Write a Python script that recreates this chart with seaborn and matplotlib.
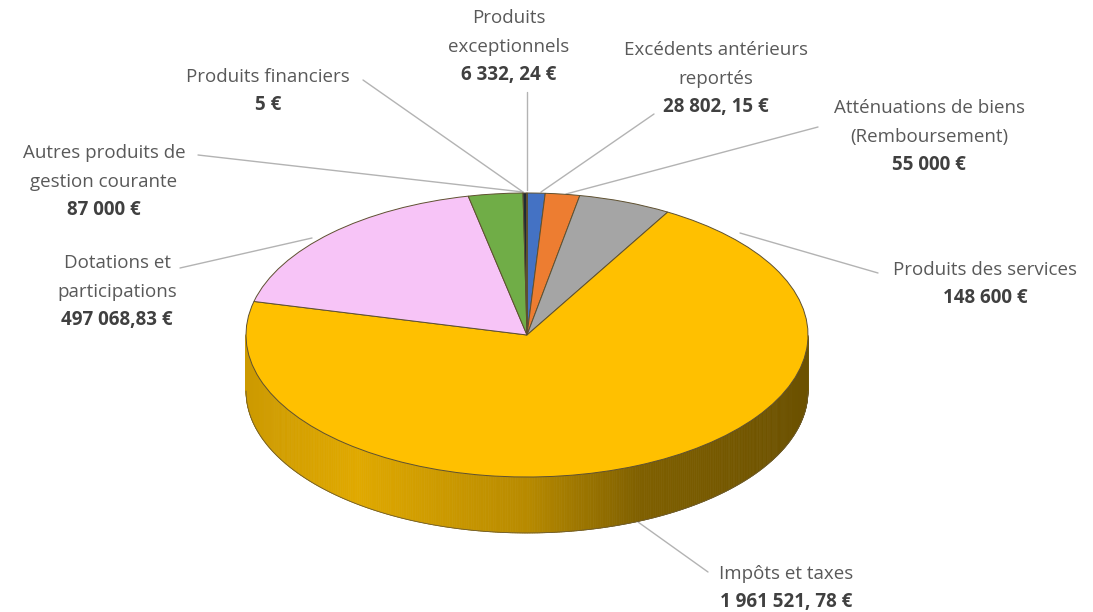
import numpy as np
import matplotlib
matplotlib.use("Agg")
import matplotlib.pyplot as plt
from matplotlib.collections import PolyCollection
from matplotlib.colors import to_rgb
import seaborn as sns

# slices, clockwise from 12 o'clock (same order as the original sheet)
categories = ["Excédents antérieurs\nreportés", "Atténuations de biens\n(Remboursement)",
              "Produits des services", "Impôts et taxes", "Dotations et\nparticipations",
              "Autres produits de\ngestion courante", "Produits\nexceptionnels",
              "Produits financiers"]
values = [28802.15, 55000, 148600, 1961521.78, 497068.83, 87000, 6332.24, 5]
value_labels = ["28 802, 15 €", "55 000 €", "148 600 €", "1 961 521, 78 €",
                "497 068,83 €", "87 000 €", "6 332, 24 €", "5 €"]
colors = ["#4472C4", "#ED7D31", "#A5A5A5", "#FFC000", "#F7C4F7", "#70AD47",
          "#1F2A36", "#5B9BD5"]

# layout (pixels, y from top)
CX, CY, RX, RY, DEPTH = 527, 335, 281, 142, 56
W, H = 1093, 612
label_xy = [(716, 50), (929, 108), (985, 270), (786, 574), (117, 263),
            (104, 153), (509, 18), (268, 77)]
leaders = [((654, 114), (541, 192)), ((818, 127), (566, 194)),
           ((878, 273), (740, 233)), ((708, 572), (638, 522)),
           ((180, 268), (312, 238)), ((198, 155), (523, 192)),
           ((527, 92), (527, 190)), ((363, 80), (523, 192))]
LINE_STEP = 29


def px(x, y):
    return (x - CX) / RX, (CY - y) / RY


sns.set_theme(style="white")
plt.rcParams["font.family"] = ["Open Sans", "DejaVu Sans"]

fig = plt.figure(figsize=(W / 100, H / 100), dpi=100)
ax = fig.add_axes([0, 0, 1, 1])

wedges, _ = ax.pie(values, colors=colors, startangle=90, counterclock=False,
                   radius=1, wedgeprops=dict(edgecolor="#5e5030", linewidth=0.7,
                                             zorder=3))

# side wall of the 3D pie (front half only)
depth = DEPTH / RY
polys, fcs = [], []
for w, c in zip(wedges, colors):
    t1, t2 = sorted([w.theta1, w.theta2])
    ts = np.linspace(t1, t2, max(int((t2 - t1) * 2), 2))
    base = np.array(to_rgb(c))
    for a, b in zip(ts[:-1], ts[1:]):
        m = ((a + b) / 2) % 360
        if not 180 <= m <= 360:
            continue
        ra, rb = np.radians(a), np.radians(b)
        polys.append([(np.cos(ra), np.sin(ra)), (np.cos(rb), np.sin(rb)),
                      (np.cos(rb), np.sin(rb) - depth), (np.cos(ra), np.sin(ra) - depth)])
        ux = np.cos(np.radians(m))
        f = np.interp(ux, [-1, -0.6, 0, 0.4, 1], [0.8, 0.88, 0.72, 0.5, 0.42])
        fcs.append(np.clip(base * f, 0, 1))
ax.add_collection(PolyCollection(polys, facecolors=fcs, edgecolors=fcs,
                                 linewidths=0.5, zorder=2))
tt = np.radians(np.linspace(180, 360, 200))
ax.plot(np.cos(tt), np.sin(tt) - depth, color="#6b5a30", lw=0.6, zorder=2.5)

# labels and leader lines
for name, val, (lx, ly), (p0, p1) in zip(categories, value_labels, label_xy, leaders):
    rows = name.split("\n")
    for i, r in enumerate(rows):
        ax.text(*px(lx, ly + i * LINE_STEP), r, ha="center", va="center",
                fontsize=13.5, color="#595959", zorder=5)
    ax.text(*px(lx, ly + len(rows) * LINE_STEP - 1), val, ha="center", va="center",
            fontsize=13.5, color="#404040", fontweight="bold", zorder=5)
    (x0, y0), (x1, y1) = px(*p0), px(*p1)
    ax.plot([x0, x1], [y0, y1], color="#b3b3b3", lw=1, zorder=1)

ax.set_aspect("auto")
ax.set_xlim(px(0, 0)[0], px(W, 0)[0])
ax.set_ylim(px(0, H)[1], px(0, 0)[1])
ax.axis("off")

fig.savefig("out.png", dpi=100)
